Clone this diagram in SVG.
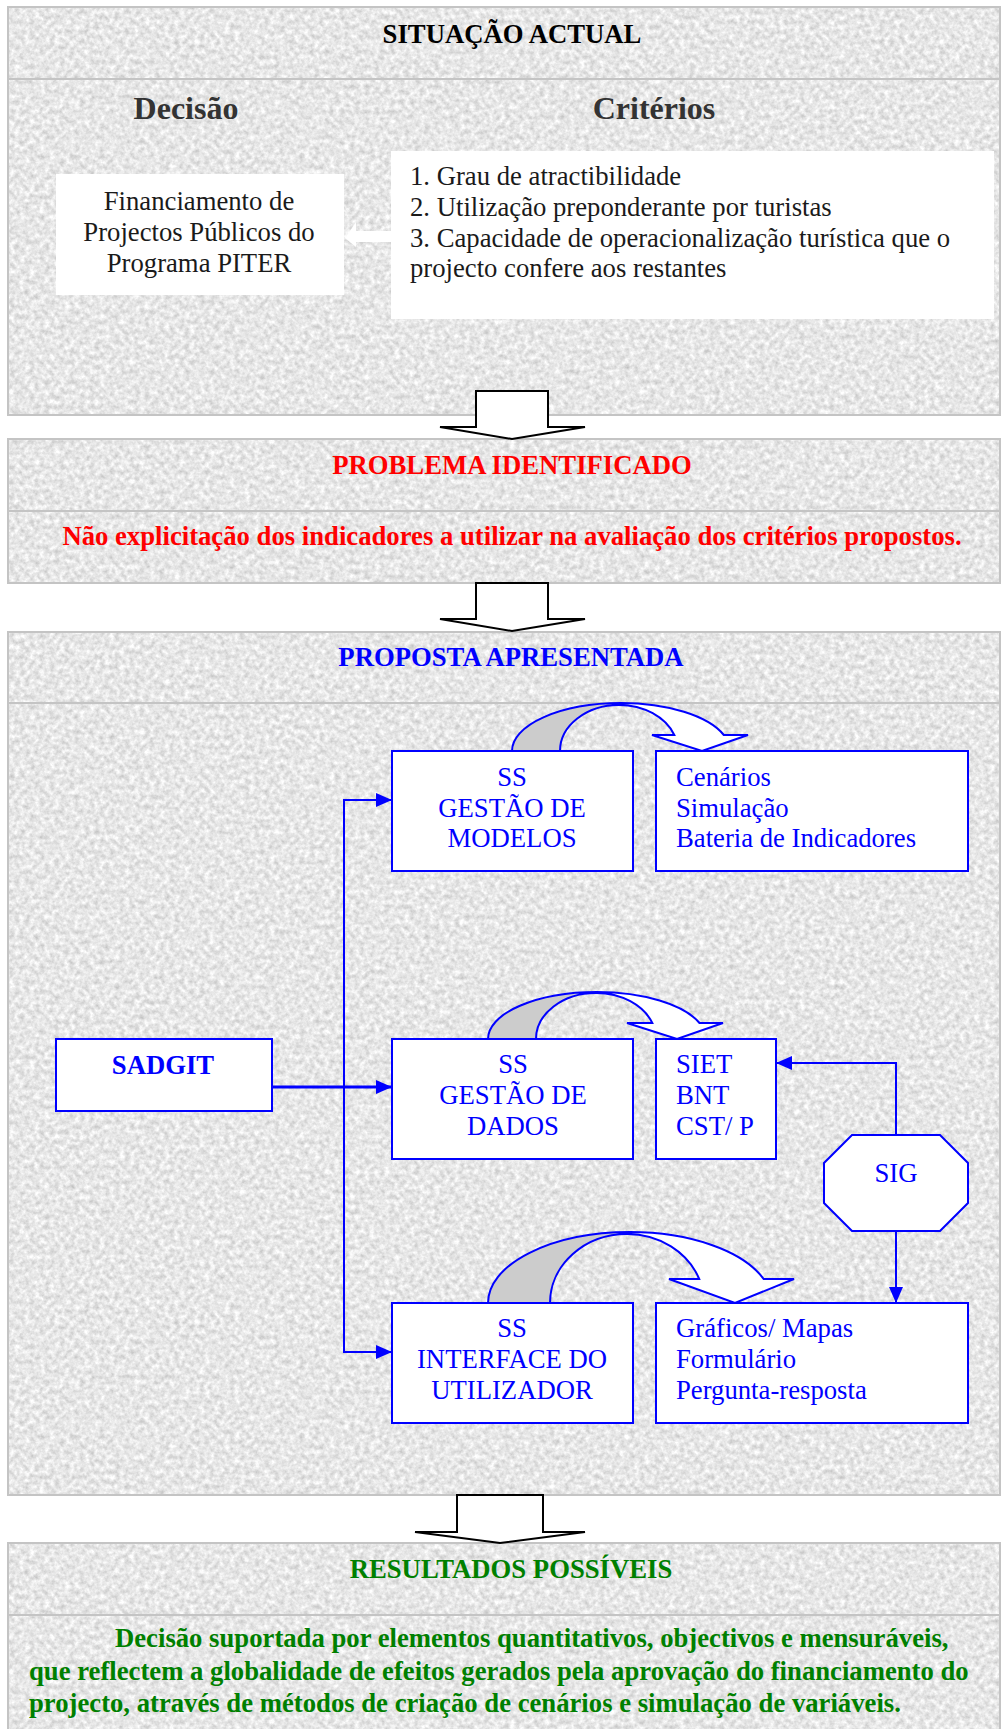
<svg xmlns="http://www.w3.org/2000/svg" width="1005" height="1729" viewBox="0 0 1005 1729">
<style>
text{font-family:"Liberation Serif","Times New Roman",serif;font-size:26.7px}
.b{font-weight:bold}
.c{text-anchor:middle}
.blk{fill:#1a1a1a}
.blue{fill:#0000ff}
.red{fill:#ff0000}
.grn{fill:#008000}
.frame{fill:none;stroke:#c4c4c4;stroke-width:2}
.hl{stroke:#c4c4c4;stroke-width:2}
.blockarrow{fill:#ffffff;stroke:#000000;stroke-width:2;stroke-linejoin:miter}
.node{fill:#ffffff;stroke:#0000ff;stroke-width:2}
.conn{fill:none;stroke:#0000ff;stroke-width:2}
.back{fill:#cccccc;stroke:#0000ff;stroke-width:2;stroke-linejoin:round}
.front{fill:#ffffff;stroke:#0000ff;stroke-width:2;stroke-linejoin:miter}
</style>
<defs>
<filter id="tex" x="0" y="0" width="1" height="1" color-interpolation-filters="sRGB">
<feTurbulence type="fractalNoise" baseFrequency="0.2" numOctaves="3" seed="7"/>
<feColorMatrix type="matrix" values="0.32 0 0 0 0.745  0.32 0 0 0 0.745  0.32 0 0 0 0.745  0 0 0 0 1"/>
</filter>
<marker id="ah" viewBox="0 0 16 14" refX="16" refY="7" markerWidth="16" markerHeight="14" markerUnits="userSpaceOnUse" orient="auto">
<path d="M0,0 L16,7 L0,14 Z" fill="#0000ff"/>
</marker>
</defs>
<rect width="1005" height="1729" fill="#ffffff"/>

<!-- sections -->
<g id="sec1">
<rect x="8" y="7" width="992" height="408" filter="url(#tex)"/>
<rect class="frame" x="8" y="7" width="992" height="408"/>
<line class="hl" x1="8" y1="79" x2="1000" y2="79"/>
</g>
<g id="sec2">
<rect x="8" y="439" width="992" height="144" filter="url(#tex)"/>
<rect class="frame" x="8" y="439" width="992" height="144"/>
<line class="hl" x1="8" y1="511" x2="1000" y2="511"/>
</g>
<g id="sec3">
<rect x="8" y="632" width="992" height="863" filter="url(#tex)"/>
<rect class="frame" x="8" y="632" width="992" height="863"/>
<line class="hl" x1="8" y1="703" x2="1000" y2="703"/>
</g>
<g id="sec4">
<rect x="8" y="1543" width="992" height="200" filter="url(#tex)"/>
<rect class="frame" x="8" y="1543" width="992" height="200"/>
<line class="hl" x1="8" y1="1615" x2="1000" y2="1615"/>
</g>

<!-- block arrows between sections -->
<g id="flow-arrows">
<polygon class="blockarrow" points="476,391 548,391 548,427 585,427 512,439 440,427 476,427"/>
<polygon class="blockarrow" points="476,583 548,583 548,619 585,619 512,631 440,619 476,619"/>
<polygon class="blockarrow" points="457,1495 543,1495 543,1532 585,1532 500,1543 415,1532 457,1532"/>
</g>

<!-- section 1 content -->
<g id="situacao">
<text class="b c" x="512" y="43" fill="#000000">SITUAÇÃO ACTUAL</text>
<text class="b c" x="186" y="119" fill="#333333" style="font-size:32px">Decisão</text>
<text class="b c" x="654" y="119" fill="#333333" style="font-size:32px">Critérios</text>
</g>
<g id="decisao-box">
<rect x="56" y="174" width="288" height="121" fill="#ffffff"/>
<text class="c blk" x="199" y="210">Financiamento de</text>
<text class="c blk" x="199" y="241">Projectos Públicos do</text>
<text class="c blk" x="199" y="272">Programa PITER</text>
</g>
<g id="criterios-box">
<rect x="391" y="151" width="603" height="168" fill="#ffffff"/>
<text class="blk" x="410" y="185">1. Grau de atractibilidade</text>
<text class="blk" x="410" y="216">2. Utilização preponderante por turistas</text>
<text class="blk" x="410" y="247">3. Capacidade de operacionalização turística que o</text>
<text class="blk" x="410" y="277">projecto confere aos restantes</text>
</g>
<g id="small-arrow">
<polygon points="391,231 356,231 356,222 345,238 356,247 356,242 391,242" fill="#ffffff"/>
</g>

<!-- section 2 content -->
<g id="problema">
<text class="b c red" x="512" y="474">PROBLEMA IDENTIFICADO</text>
<text class="b c red" x="512" y="545">Não explicitação dos indicadores a utilizar na avaliação dos critérios propostos.</text>
</g>

<!-- section 3 content -->
<g id="proposta-title">
<text class="b c blue" x="511" y="666">PROPOSTA APRESENTADA</text>
</g>

<g id="connectors">
<polyline class="conn" points="392,800 344,800 344,1352 392,1352" marker-end="url(#ah)"/>
<line class="conn" x1="344" y1="800" x2="392" y2="800" marker-end="url(#ah)"/>
<line class="conn" x1="272" y1="1087" x2="392" y2="1087" marker-end="url(#ah)" style="stroke-width:3"/>
<polyline class="conn" points="896,1135 896,1063 776,1063" marker-end="url(#ah)"/>
<line class="conn" x1="896" y1="1231" x2="896" y2="1303" marker-end="url(#ah)"/>
</g>

<g id="curved-arrows">
<path class="back" d="M512,751 A109,48 0 0 1 621,703 L619,705 A59,46 0 0 0 560,751 Z"/>
<path class="front" d="M621,703 A109,48 0 0 1 723.8,735 L748,735 L702,751 L652,735 L674.3,735 A59,46 0 0 0 619,705 Z"/>
<path class="back" d="M488,1039 A109,47 0 0 1 597,992 L596,993 A60,46 0 0 0 536,1039 Z"/>
<path class="front" d="M597,992 A109,47 0 0 1 699.5,1023 L723,1023 L677,1039 L627,1023 L652.3,1023 A60,46 0 0 0 596,993 Z"/>
<path class="back" d="M488,1303 A142,71 0 0 1 630,1232 L627,1234 A77,69 0 0 0 550,1303 Z"/>
<path class="front" d="M630,1232 A142,71 0 0 1 763.6,1279 L794,1279 L735,1303 L669,1279 L699.2,1279 A77,69 0 0 0 627,1234 Z"/>
</g>

<g id="sadgit">
<rect class="node" x="56" y="1039" width="216" height="72"/>
<text class="b c blue" x="163" y="1074">SADGIT</text>
</g>
<g id="ss-modelos">
<rect class="node" x="392" y="751" width="241" height="120"/>
<text class="c blue" x="512" y="786">SS</text>
<text class="c blue" x="512" y="817">GESTÃO DE</text>
<text class="c blue" x="512" y="847">MODELOS</text>
</g>
<g id="modelos-out">
<rect class="node" x="656" y="751" width="312" height="120"/>
<text class="blue" x="676" y="786">Cenários</text>
<text class="blue" x="676" y="817">Simulação</text>
<text class="blue" x="676" y="847">Bateria de Indicadores</text>
</g>
<g id="ss-dados">
<rect class="node" x="392" y="1039" width="241" height="120"/>
<text class="c blue" x="513" y="1073">SS</text>
<text class="c blue" x="513" y="1104">GESTÃO DE</text>
<text class="c blue" x="513" y="1135">DADOS</text>
</g>
<g id="dados-out">
<rect class="node" x="656" y="1039" width="120" height="120"/>
<text class="blue" x="676" y="1073">SIET</text>
<text class="blue" x="676" y="1104">BNT</text>
<text class="blue" x="676" y="1135">CST/ P</text>
</g>
<g id="sig">
<polygon class="node" points="852,1135 940,1135 968,1163 968,1203 940,1231 852,1231 824,1203 824,1163"/>
<text class="c blue" x="896" y="1182">SIG</text>
</g>
<g id="ss-interface">
<rect class="node" x="392" y="1303" width="241" height="120"/>
<text class="c blue" x="512" y="1337">SS</text>
<text class="c blue" x="512" y="1368">INTERFACE DO</text>
<text class="c blue" x="512" y="1399">UTILIZADOR</text>
</g>
<g id="interface-out">
<rect class="node" x="656" y="1303" width="312" height="120"/>
<text class="blue" x="676" y="1337">Gráficos/ Mapas</text>
<text class="blue" x="676" y="1368">Formulário</text>
<text class="blue" x="676" y="1399">Pergunta-resposta</text>
</g>

<!-- section 4 content -->
<g id="resultados">
<text class="b c grn" x="511" y="1578">RESULTADOS POSSÍVEIS</text>
<text class="b grn" x="115" y="1647">Decisão suportada por elementos quantitativos, objectivos e mensuráveis,</text>
<text class="b grn" x="29" y="1680">que reflectem a globalidade de efeitos gerados pela aprovação do financiamento do</text>
<text class="b grn" x="29" y="1712">projecto, através de métodos de criação de cenários e simulação de variáveis.</text>
</g>
</svg>
